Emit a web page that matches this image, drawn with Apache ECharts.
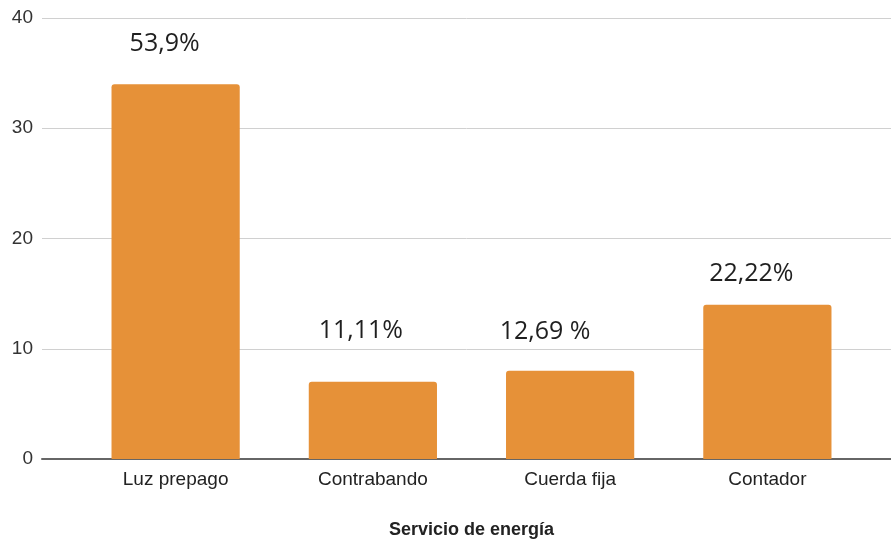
<!DOCTYPE html>
<html>
<head>
<meta charset="utf-8">
<script src="https://cdn.jsdelivr.net/npm/echarts@6/dist/echarts.min.js"></script>
<style>
  html, body { margin: 0; padding: 0; background: #fff; }
  #chart { width: 891px; height: 542px; }
</style>
</head>
<body>
<div id="chart"></div>
<script>
// datos del gráfico
const categories = ["Luz prepago", "Contrabando", "Cuerda fija", "Contador"];
const values = [34, 7, 8, 14];
const pctLabels = ["53,9%", "11,11%", "12,69 %", "22,22%"];
const yTicks = [0, 10, 20, 30, 40];

// desplazamiento de las etiquetas (estilo, no datos)
const labelShift = [[-11, -28], [-12, -38], [-25, -26], [-16, -18]];

const chart = echarts.init(document.getElementById("chart"));

const barData = values.map((v, i) => ({
  value: v,
  label: {
    show: true,
    position: "top",
    distance: 0,
    offset: labelShift[i],
    formatter: pctLabels[i],
  },
}));

chart.setOption({
  animation: false,
  grid: [
    { left: 42, right: 0, top: 18, bottom: 83, outerBoundsMode: "none" },
    { left: 77, right: 25, top: 18, bottom: 83, outerBoundsMode: "none" },
  ],
  xAxis: [
    {
      gridIndex: 0,
      type: "value",
      min: 0,
      max: 1,
      axisLabel: { show: false },
      axisTick: { show: false },
      splitLine: { show: false },
      axisLine: { show: true, lineStyle: { color: "#666", width: 2 } },
    },
    {
      gridIndex: 1,
      type: "category",
      data: categories,
      axisLine: { show: false },
      axisTick: { show: false },
      axisLabel: {
        color: "#222",
        fontFamily: "Liberation Sans, Arial",
        fontSize: 19,
        margin: 11,
      },
      name: "Servicio de energía",
      nameLocation: "middle",
      nameGap: 62,
      nameTextStyle: {
        color: "#222",
        fontFamily: "Liberation Sans, Arial",
        fontSize: 18,
        fontWeight: "bold",
      },
    },
  ],
  yAxis: [
    {
      gridIndex: 0,
      type: "value",
      min: yTicks[0],
      max: yTicks[yTicks.length - 1],
      interval: 10,
      axisLine: { show: false },
      axisTick: { show: false },
      axisLabel: {
        color: "#333",
        fontFamily: "Liberation Sans, Arial",
        fontSize: 19,
        margin: 9,
      },
      splitLine: { lineStyle: { color: "#d0d0d0", width: 1 } },
    },
    {
      gridIndex: 1,
      type: "value",
      min: yTicks[0],
      max: yTicks[yTicks.length - 1],
      show: false,
    },
  ],
  series: [
    {
      type: "bar",
      xAxisIndex: 1,
      yAxisIndex: 1,
      data: barData,
      barWidth: "65%",
      itemStyle: { color: "#E69138", borderRadius: [3, 3, 0, 0] },
      label: {
        color: "#1f1f1f",
        fontFamily: "Open Sans",
        fontSize: 25,
        lineHeight: 25,
      },
    },
  ],
});
</script>
</body>
</html>
